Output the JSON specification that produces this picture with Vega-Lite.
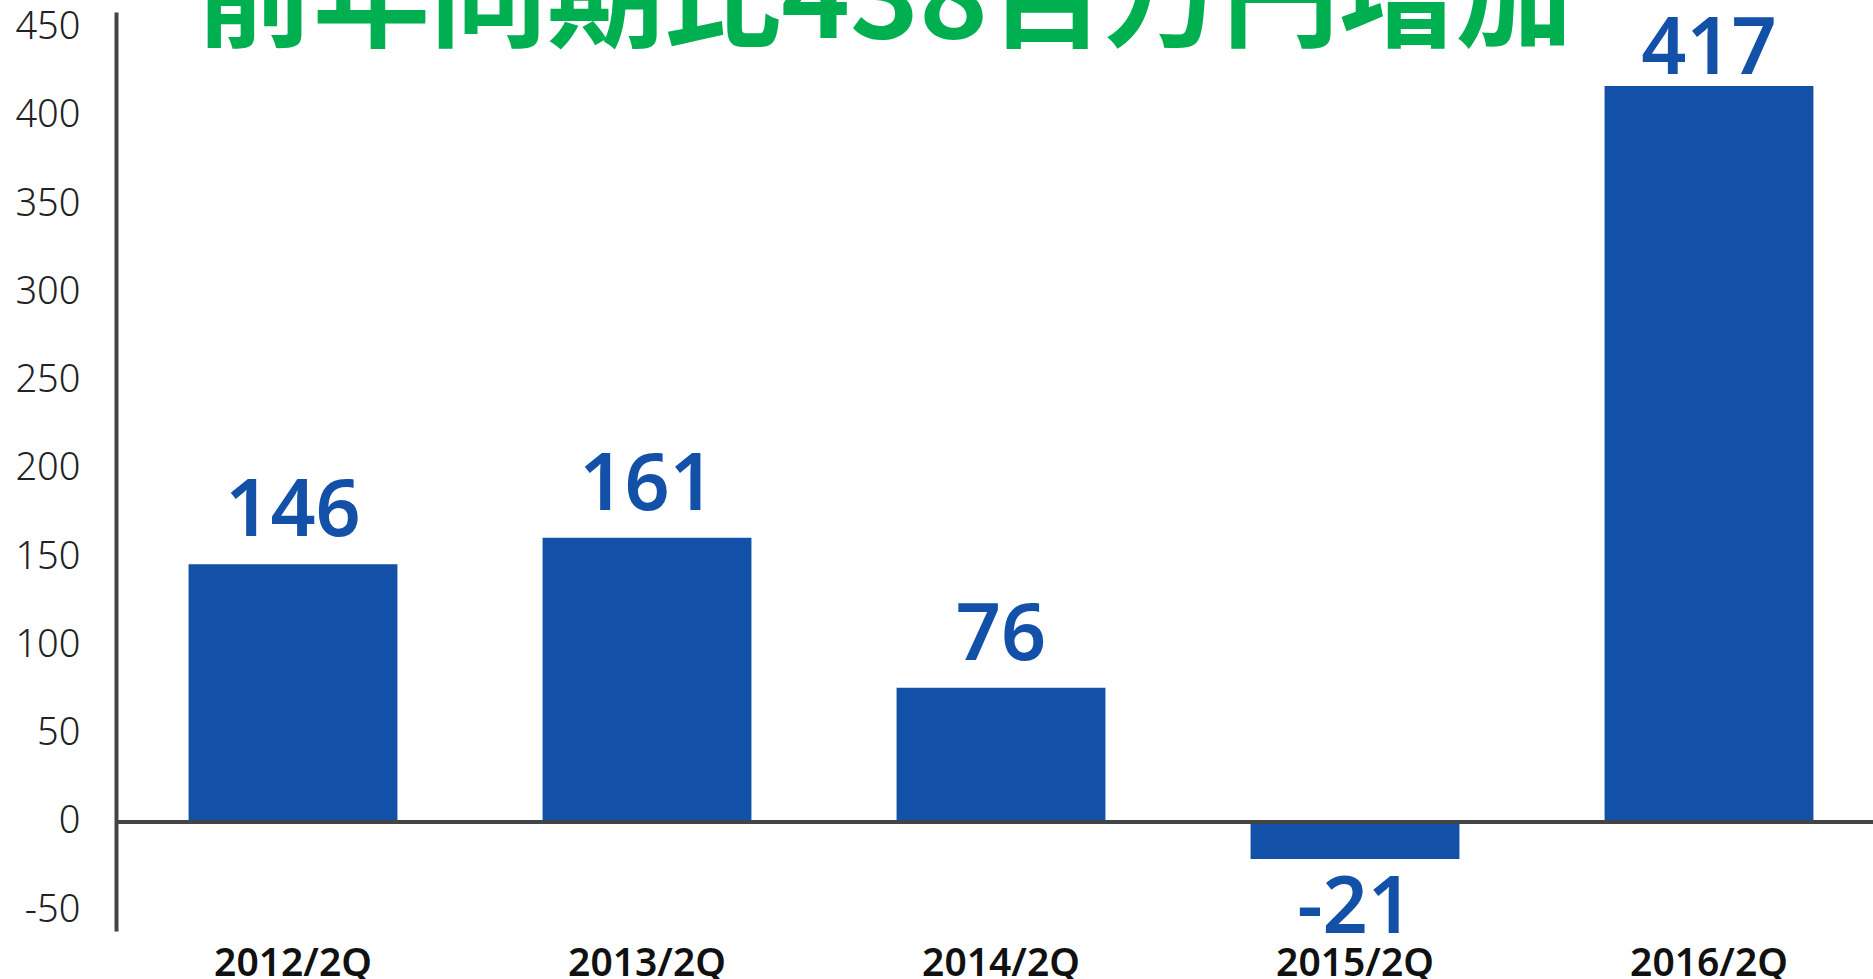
{
  "$schema": "https://vega.github.io/schema/vega-lite/v6.json",
  "autosize": {"type": "none"},
  "width": 1770,
  "height": 919,
  "padding": {"left": 116, "top": 12, "right": -13, "bottom": 48},
  "background": "white",
  "title": {
    "text": "前年同期比438百万円増加",
    "font": "Noto Sans CJK JP",
    "fontSize": 117,
    "fontWeight": "bold",
    "color": "#00B050",
    "anchor": "start",
    "frame": "group",
    "baseline": "alphabetic",
    "dx": 80,
    "offset": -146
  },
  "config": {
    "view": {"stroke": null},
    "locale": {"number": {"decimal": ".", "thousands": ",", "grouping": [3], "currency": ["", ""], "minus": "-"}}
  },
  "data": {
    "values": [
      {"period": "2012/2Q", "value": 146},
      {"period": "2013/2Q", "value": 161},
      {"period": "2014/2Q", "value": 76},
      {"period": "2015/2Q", "value": -21},
      {"period": "2016/2Q", "value": 417}
    ]
  },
  "layer": [
    {
      "mark": {"type": "bar", "color": "#1351A8"},
      "encoding": {
        "x": {
          "field": "period",
          "type": "nominal",
          "sort": null,
          "scale": {"paddingInner": 0.41, "paddingOuter": 0.205},
          "axis": {
            "title": null,
            "domain": false,
            "ticks": false,
            "tickSize": 0,
            "labelAngle": 0,
            "labelFont": "Noto Sans",
            "labelFontSize": 39,
            "labelFontWeight": 600,
            "labelColor": "#111111",
            "labelPadding": 13
          }
        },
        "y": {
          "field": "value",
          "type": "quantitative",
          "scale": {"domain": [-61.8, 458.9], "nice": false, "zero": false},
          "axis": {
            "values": [-50, 0, 50, 100, 150, 200, 250, 300, 350, 400, 450],
            "title": null,
            "grid": false,
            "ticks": false,
            "tickSize": 0,
            "domain": true,
            "domainColor": "#444444",
            "domainWidth": 4,
            "labelFont": "Noto Sans",
            "labelFontSize": 38,
            "labelFontWeight": 300,
            "labelColor": "#222222",
            "labelPadding": 36
          }
        }
      }
    },
    {
      "data": {"values": [{"baseline": 0}]},
      "mark": {"type": "rule", "color": "#444444", "strokeWidth": 4},
      "encoding": {"y": {"field": "baseline", "type": "quantitative"}}
    },
    {
      "transform": [{"filter": "datum.value >= 0 && datum.value < 400"}],
      "mark": {"type": "text", "font": "Noto Sans", "fontSize": 79, "fontWeight": 600, "color": "#1351A8", "baseline": "alphabetic", "dy": -28},
      "encoding": {
        "x": {"field": "period", "type": "nominal", "sort": null},
        "y": {"field": "value", "type": "quantitative"},
        "text": {"field": "value", "type": "quantitative"}
      }
    },
    {
      "transform": [{"filter": "datum.value >= 400"}],
      "mark": {"type": "text", "font": "Noto Sans", "fontSize": 79, "fontWeight": 600, "color": "#1351A8", "baseline": "alphabetic", "dy": -12},
      "encoding": {
        "x": {"field": "period", "type": "nominal", "sort": null},
        "y": {"field": "value", "type": "quantitative"},
        "text": {"field": "value", "type": "quantitative"}
      }
    },
    {
      "transform": [{"filter": "datum.value < 0"}],
      "mark": {"type": "text", "font": "Noto Sans", "fontSize": 79, "fontWeight": 600, "color": "#1351A8", "baseline": "alphabetic", "dy": 74},
      "encoding": {
        "x": {"field": "period", "type": "nominal", "sort": null},
        "y": {"field": "value", "type": "quantitative"},
        "text": {"field": "value", "type": "quantitative"}
      }
    }
  ]
}
